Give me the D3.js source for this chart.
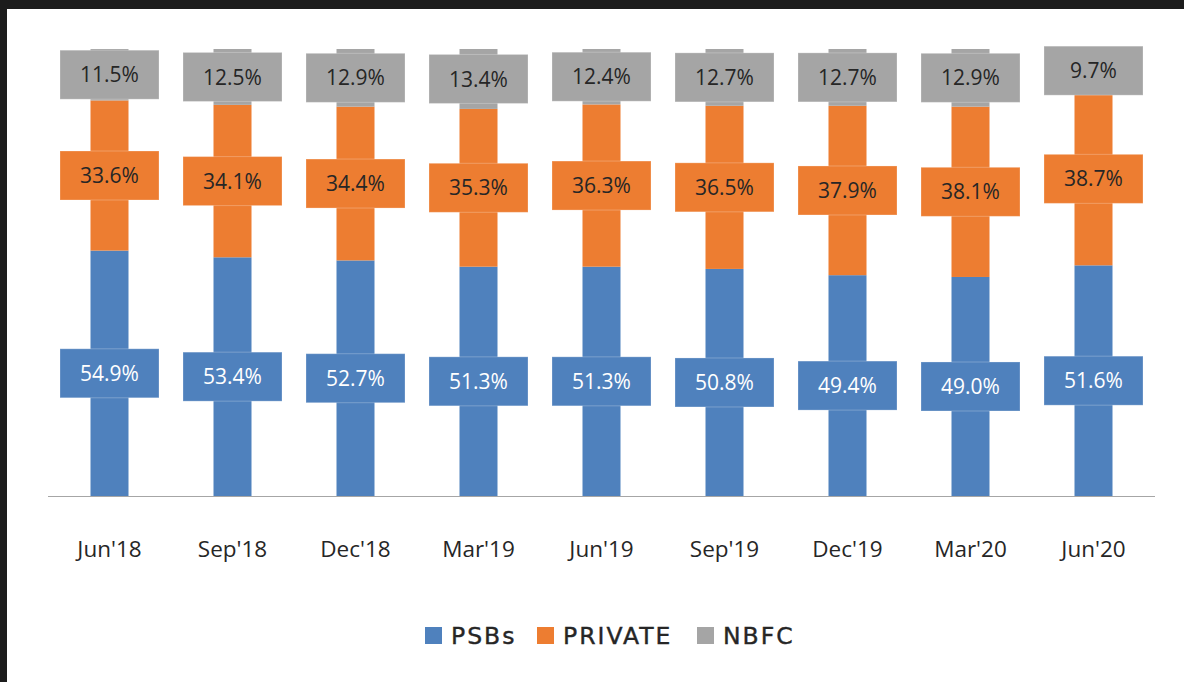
<!DOCTYPE html>
<html>
<head>
<meta charset="utf-8">
<script src="https://cdn.jsdelivr.net/npm/d3@7/dist/d3.min.js"></script>
<style>
  html, body { margin: 0; padding: 0; background: #1c1c1c; }
  #chart { position: absolute; left: 7px; top: 9px; width: 1177px; height: 673px; background: #fff; }
  svg { display: block; }
</style>
</head>
<body>
<div id="chart"></div>
<script>
// quarters and share of each lender group (%)
var categories = ["Jun'18", "Sep'18", "Dec'18", "Mar'19", "Jun'19", "Sep'19", "Dec'19", "Mar'20", "Jun'20"];
var psbs    = [54.9, 53.4, 52.7, 51.3, 51.3, 50.8, 49.4, 49.0, 51.6];
var privateB = [33.6, 34.1, 34.4, 35.3, 36.3, 36.5, 37.9, 38.1, 38.7];
var nbfc    = [11.5, 12.5, 12.9, 13.4, 12.4, 12.7, 12.7, 12.9, 9.7];
var seriesNames = ["PSBs", "PRIVATE", "NBFC"];
var colors = ["#4f81bd", "#ed7d31", "#a5a5a5"];
var textColors = ["#ffffff", "#262626", "#262626"];

var width = 1184, height = 682;
var svg = d3.select("#chart").append("svg")
    .attr("width", width).attr("height", height)
    .style("position", "absolute").style("left", "-7px").style("top", "-9px");

var x = d3.scaleBand().domain(categories).range([48, 1155]);
var y = d3.scaleLinear().domain([0, 100]).range([496, 49]);
var barW = 38, boxW = 99, boxH = 49;

var rows = categories.map(function(c, i) {
    return { cat: c, PSBs: psbs[i], PRIVATE: privateB[i], NBFC: nbfc[i] };
});
var stacked = d3.stack().keys(seriesNames)(rows);

// bars
stacked.forEach(function(s, si) {
    svg.append("g").selectAll("rect")
        .data(s)
        .enter().append("rect")
        .attr("x", function(d) { return x(d.data.cat) + x.bandwidth() / 2 - barW / 2; })
        .attr("y", function(d) { return y(d[1]); })
        .attr("width", barW)
        .attr("height", function(d) { return y(d[0]) - y(d[1]); })
        .attr("fill", colors[si]);
});

// axis line
svg.append("line")
    .attr("x1", 48).attr("x2", 1155)
    .attr("y1", 496.5).attr("y2", 496.5)
    .attr("stroke", "#a6a6a6").attr("stroke-width", 1.2);

// data label boxes
stacked.forEach(function(s, si) {
    var g = svg.append("g").selectAll("g")
        .data(s)
        .enter().append("g")
        .attr("transform", function(d) {
            var cx = x(d.data.cat) + x.bandwidth() / 2;
            var cy = (y(d[0]) + y(d[1])) / 2;
            return "translate(" + cx + "," + cy + ")";
        });
    g.append("rect")
        .attr("x", -boxW / 2).attr("y", -boxH / 2)
        .attr("width", boxW).attr("height", boxH)
        .attr("fill", colors[si])
        .attr("stroke", "rgba(255,255,255,0.25)").attr("stroke-width", 1);
    g.append("text")
        .attr("text-anchor", "middle")
        .attr("dy", "0.36em")
        .attr("font-family", "'Open Sans', sans-serif")
        .attr("font-size", 21)
        .attr("fill", textColors[si])
        .text(function(d) { return (d[1] - d[0]).toFixed(1) + "%"; });
});

// category labels
svg.append("g").selectAll("text")
    .data(categories)
    .enter().append("text")
    .attr("x", function(d) { return x(d) + x.bandwidth() / 2; })
    .attr("y", 549)
    .attr("dy", "0.36em")
    .attr("text-anchor", "middle")
    .attr("font-family", "'Open Sans', sans-serif")
    .attr("font-size", 22.5)
    .attr("fill", "#262626")
    .text(function(d) { return d; });

// legend
var legendX = [425, 537, 697];
var lg = svg.append("g").selectAll("g")
    .data(seriesNames)
    .enter().append("g")
    .attr("transform", function(d, i) { return "translate(" + legendX[i] + ",627)"; });
lg.append("rect")
    .attr("width", 17).attr("height", 17)
    .attr("fill", function(d, i) { return colors[i]; });
lg.append("text")
    .attr("x", 26).attr("y", 8.5)
    .attr("dy", "0.36em")
    .attr("font-family", "'DejaVu Sans', sans-serif")
    .attr("font-size", 23.5)
    .attr("letter-spacing", 2)
    .attr("stroke", "#262626").attr("stroke-width", 0.4)
    .attr("fill", "#262626")
    .text(function(d) { return d; });
</script>
</body>
</html>
